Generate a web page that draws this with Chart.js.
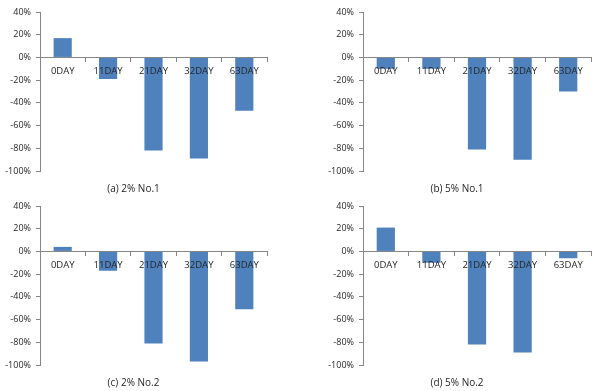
<!DOCTYPE html>
<html>
<head>
<meta charset="utf-8">
<script src="https://cdn.jsdelivr.net/npm/chart.js@4/dist/chart.umd.min.js"></script>
<style>
  html, body { margin: 0; padding: 0; background: #fff; overflow: hidden; }
  body { width: 600px; height: 391px; position: relative; }
  .panel { position: absolute; }
</style>
</head>
<body>
<div class="panel" style="left:0px;top:0px"><canvas id="ca" width="268" height="200"></canvas></div>
<div class="panel" style="left:323px;top:0px"><canvas id="cb" width="269" height="200"></canvas></div>
<div class="panel" style="left:0px;top:194px"><canvas id="cc" width="268" height="200"></canvas></div>
<div class="panel" style="left:323px;top:194px"><canvas id="cd" width="269" height="200"></canvas></div>
<script>
// category labels shared by all four panels
var days = ['0DAY', '11DAY', '21DAY', '32DAY', '63DAY'];

// change in percent
var a2No1 = [17, -19, -82, -89, -47];
var b5No1 = [-10, -10, -81, -90, -30];
var c2No2 = [4, -17, -81, -97, -51];
var d5No2 = [21, -10, -82, -89, -6];

var yTicks = [40, 20, 0, -20, -40, -60, -80, -100];

var axisColor = '#868686';
var textColor = '#262626';
var fontName = "'Open Sans', 'Liberation Sans', sans-serif";

function makeChart(id, title, values) {
    var ctx = document.getElementById(id).getContext('2d');
    return new Chart(ctx, {
        type: 'bar',
        data: {
            labels: days,
            datasets: [{
                label: title,
                data: values,
                backgroundColor: '#4F81BD',
                borderWidth: 0,
                barPercentage: 0.4,
                categoryPercentage: 1.0
            }]
        },
        options: {
            responsive: false,
            animation: false,
            devicePixelRatio: 1,
            layout: { padding: { top: 12, left: 0, right: 1, bottom: 5 } },
            plugins: {
                legend: { display: false },
                tooltip: { enabled: false },
                title: {
                    display: true,
                    text: title,
                    position: 'bottom',
                    color: textColor,
                    font: { family: fontName, size: 10, weight: 'normal' },
                    padding: { top: 12, bottom: 0 }
                }
            },
            scales: {
                x: {
                    position: { y: 0 },
                    grid: { drawOnChartArea: false, drawTicks: true, tickLength: 4, color: axisColor, offset: true },
                    border: { display: true, color: axisColor, z: 1 },
                    ticks: { z: 1, color: textColor, font: { family: fontName, size: 9.5 }, padding: 4, maxRotation: 0, autoSkip: false }
                },
                y: {
                    min: -100,
                    max: 40,
                    afterBuildTicks: function(scale) {
                        scale.ticks = yTicks.map(function(v) { return { value: v }; });
                    },
                    afterFit: function(scale) { scale.width = 40; },
                    grid: { drawOnChartArea: false, drawTicks: true, tickLength: 4, color: axisColor },
                    border: { display: true, color: axisColor },
                    ticks: {
                        color: textColor,
                        font: { family: fontName, size: 9 },
                        padding: 5,
                        callback: function(v) { return v + '%'; }
                    }
                }
            }
        }
    });
}

makeChart('ca', '(a) 2% No.1', a2No1);
makeChart('cb', '(b) 5% No.1', b5No1);
makeChart('cc', '(c) 2% No.2', c2No2);
makeChart('cd', '(d) 5% No.2', d5No2);
</script>
</body>
</html>
